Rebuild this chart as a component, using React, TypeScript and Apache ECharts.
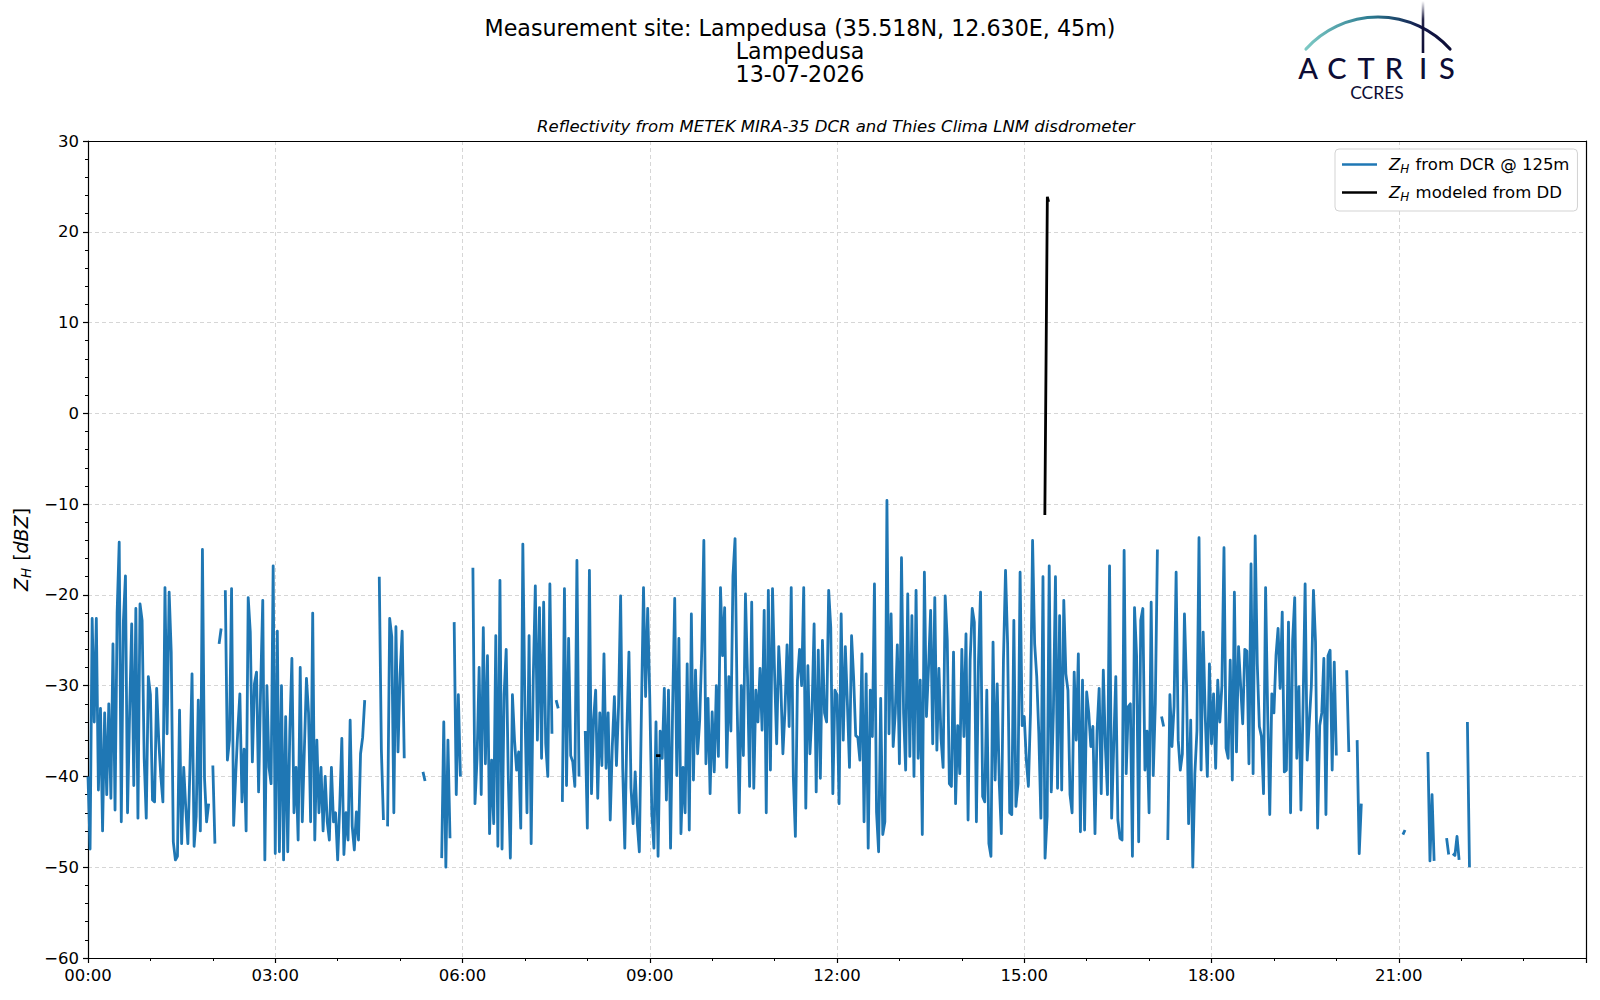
import React, { useEffect, useRef } from "react";
import * as echarts from "echarts";

// ---- data: Z_H from DCR @ 125m, 30 samples per hour (2-min spacing), null = no data ----
const h00 = [-40, -48, -22.6, -34, -22.6, -41.5, -32.5, -46, -33, -42, -32, -42.4, -25.4, -43.7, -22, -14.2, -45, -23, -17.9, -44, -33, -23.2, -41, -21.5, -44.6, -21, -22.8, -38, -44.6, -29];
const h01 = [-31, -42.6, -42.8, -30.3, -36, -40, -42.8, -19.2, -35.3, -19.7, -26.3, -47.2, -49.2, -48.8, -32.7, -47.4, -39, -43.5, -47.4, -39, -28.7, -47.7, -44.4, -31.6, -46, -15, -40.2, -45, -43, null];
const h02 = [-38.8, -47.4, null, -25.4, -23.7, null, -19.5, -38.2, -36, -19.3, -45.4, -39.8, -34.9, -30.9, -42.8, -37, -46, -20.3, -24.1, -38.4, -29.8, -28.5, -41.7, -30, -20.6, -49.2, -30, -39, -40.8, -16.8];
const h03 = [-48.5, -24, -48.3, -30, -49.2, -33.4, -48.3, -35, -27, -44, -39, -47, -28, -45, -37, -29.2, -33, -45, -22, -47, -36, -44, -39, -46, -40, -45, -47, -39, -45, -44];
const h04 = [-49.2, -43.2, -35.8, -48.6, -44, -47, -33.8, -45.5, -48.1, -43.9, -47, -37.5, -35.7, -31.6, null, null, null, null, null, null, -18, -37, -44.8, null, -45.5, -22.6, -24.6, -44, -23.5, -37.3];
const h05 = [-28.7, -24, -38, null, null, null, null, null, null, null, null, -39.5, -40.5, null, null, null, null, null, null, null, -49, -34, -50, -36, -46.8, null, -23, -42, -31, -40];
const h06 = [null, null, null, null, null, -17, -43, -38, -28, -42, -23.6, -38.6, -26.7, -46.3, -38.2, -45.2, -24.5, -47.7, -18.4, -48, -31, -26, -40, -49, -31, -36, -39.3, -37.3, -45.7, -14.4];
const h07 = [-32.3, -44, -24.5, -47.4, -29.4, -19, -36, -21.4, -38, -20.8, -36.4, -40, -18.8, -35.3, null, -31.6, -32.5, null, -42.8, -19.3, -41, -24.8, -37.7, -38.4, -41.1, -16.2, -40, null, null, -35];
const h08 = [-45.7, -17.3, -41.9, -33.8, -30.5, -42.4, -33, -38.8, -26.5, -39.1, -33, -44.8, -36.7, -31.2, -38.8, -32.3, -20.1, -39.1, -47.9, -35, -26.3, -41.3, -45.2, -39.5, -45.2, -48.3, -32.7, -19.2, -31.2, -21.5];
const h09 = [-31.2, -44, -47.9, -34, -48.8, -35, -38, -30.3, -42.6, -30.5, -47.9, -32.3, -20.4, -39.9, -24.8, -46.3, -39, -44, -27.6, -45.9, -22.1, -40.4, -28.3, -37.5, -33.8, -26.1, -14, -38.6, -31.4, -41.9];
const h10 = [-32.9, -39.5, -30, -37.8, -19.2, -26.7, -21.4, -39, -29, -35, -17.9, -13.8, -32, -44, -30, -37.7, -19.9, -29, -41.1, -20.8, -41.3, -30.5, -34, -28.1, -34.9, -21.7, -44, -19.5, -39.3, -19.3];
const h11 = [-28.7, -36.4, -25.7, -30, -37.5, -32.7, -25.5, -34.5, -19.2, -40, -46.6, -29.4, -26, -30, -19.2, -43.5, -27.8, -37.5, -32.7, -23.2, -41.7, -26.1, -40.2, -25, -33, -34, -19.5, -23.6, -41.9, -30.5];
const h12 = [-31, -43, -22.1, -36, -25.7, -32, -39, -24.5, -29.2, -35.5, -35.7, -38.2, -26.5, -45, -28.7, -47.9, -30.5, -35.6, -18.8, -43.9, -48.3, -31.4, -46.4, -45, -9.6, -35.3, -22.1, -36.7, -33, -25.5];
const h13 = [-38.6, -15.9, -33, -39.3, -19.9, -37.8, -22.3, -40, -19.5, -38, -29.4, -46.4, -17.5, -33.4, -28, -21.7, -36.4, -20.3, -37.1, -28.1, -35.8, -39, -20.1, -25, -40.8, -41.1, -26.3, -43, -34.4, -39.7];
const h14 = [-26, -35.6, -24.3, -44.8, -27.2, -21.5, -23, -45, -27.4, -19.7, -42.2, -42.8, -30.5, -47.4, -48.8, -25.2, -40.4, -29.8, -40.8, -46.3, -27.2, -17.3, -25.4, -44, -44.2, -22.8, -43.3, -40.8, -17.5, -34.4];
const h15 = [-33.4, -38.2, -41.1, -33, -14, -25.4, -29, -35.3, -44.6, -18, -49, -44.4, -16.8, -41.7, -33, -18, -41.3, -22.3, -41.5, -20.6, -28.7, -30.5, -42, -44, -28.5, -36, -26.5, -46.1, -29.4, -45.9];
const h16 = [-30.7, -33, -36.7, -34.5, -46.3, -35, -30.3, -41.9, -28.3, -36.7, -42, -16.8, -44.6, -36.6, -29, -44.8, -46.8, -47, -15.1, -39.7, -32.3, -32, -48.8, -21.4, -26.8, -47.2, -22.8, -21.5, -39.3, -35];
const h17 = [-44, -20.8, -39.9, -32, -15, null, -33.4, -34.5, null, -47, -31, -36.7, -32.3, -17.5, -36, -39.3, -37.5, -22.1, -30, -45.2, -33.8, -50, -39.7, -35, -13.7, -39.3, -24.1, -33.4, -40, -27.6];
const h18 = [-36.4, -30.9, -39.1, -29.4, -34, -30, -14.8, -36.9, -38, -27.2, -40.4, -19.7, -37.3, -25.7, -30, -34.2, -26, -26.2, -38.6, -16.6, -39.7, -13.5, -27.6, -34.5, -35.6, -41.9, -19.2, -33, -44.2, -30.9];
const h19 = [-33, -26.7, -23.7, -30.3, -21.9, -39.5, -39.3, -23, -44, -25, -20.3, -38, -30.1, -43.7, -32.3, -18.8, -38.2, -34, -30, -19.5, -25.2, -45.7, -34.4, -33, -27, -44.2, -26.7, -26.1, -39.3, -27.4];
const h20 = [-37.7, null, null, null, null, -28.3, -37.3, null, null, null, -36, -48.5, -43];
const h21 = [null, null, -46.4, -45.9, null, null, null, null, null, null, null, null, null, null, -37.3, -49.3, -42, -49.3, null, null, null, null, null, -46.8, -48.6, null, -48.5, -48.7, -46.6, -49.2];
const h22 = [null, null, null, -34, -50];
const dcrHours = [h00, h01, h02, h03, h04, h05, h06, h07, h08, h09, h10, h11, h12, h13, h14, h15, h16, h17, h18, h19, h20, h21, h22];
const samplesPerHour = 30;

// ---- data: Z_H modeled from disdrometer, [hour, dBZ], null = gap ----
const ddTimes = [9.10, 9.17, null, 15.33, 15.37, 15.39];
const ddValues = [-37.7, -37.7, null, -11.2, 23.85, 23.3];

// ---- axis ticks ----
const xTicks = [0, 3, 6, 9, 12, 15, 18, 21, 24];
const yMin = -60;
const yMax = 30;

const FONT = "DejaVu Sans";
const NAVY = "#0d0d35";

function buildDcr() {
  const pts: any[] = [];
  dcrHours.forEach((arr, H) => {
    arr.forEach((v, i) => {
      pts.push([H + i / samplesPerHour, v === null ? "-" : v]);
    });
  });
  return pts;
}

function buildDd() {
  return ddTimes.map((t, i) =>
    t === null ? [12, "-"] : [t, ddValues[i]]
  );
}

const pad2 = (n: number) => (n < 10 ? "0" + n : String(n));
const minus = (v: number) => (v < 0 ? "\u2212" + Math.abs(v) : String(v));

export default function App() {
  const ref = useRef<HTMLDivElement>(null);
  useEffect(() => {
    if (!ref.current) return;
    const chart = echarts.init(ref.current, null, { renderer: "svg" });
    const arcGrad = new echarts.graphic.LinearGradient(0, 0, 1, 0, [
      { offset: 0, color: "#7cc9c4" },
      { offset: 0.45, color: "#2b7a90" },
      { offset: 0.8, color: "#12184a" },
      { offset: 1, color: NAVY },
    ]);
    const vGrad = new echarts.graphic.LinearGradient(
      1423, 1, 1423, 53,
      [
        { offset: 0, color: "rgba(13,13,53,0)" },
        { offset: 0.35, color: "rgba(13,13,53,0.9)" },
        { offset: 1, color: NAVY },
      ],
      true
    );
    const letters = [
      { t: "A", x: 1308 },
      { t: "C", x: 1337 },
      { t: "T", x: 1366 },
      { t: "R", x: 1394 },
      { t: "I", x: 1423 },
      { t: "S", x: 1447 },
    ];
    const titleStyle = { fontSize: 22.2, fontWeight: "normal", color: "#000", fontFamily: FONT };
    const gridStyle = { color: "#d6d6d6", width: 1, type: [4, 3] };
    const option: any = {
      animation: false,
      backgroundColor: "#fff",
      textStyle: { fontFamily: FONT, color: "#000" },
      title: [
        {
          text: "Measurement site: Lampedusa (35.518N, 12.630E, 45m)",
          left: "center",
          top: 12,
          textStyle: titleStyle,
        },
        { text: "Lampedusa", left: "center", top: 35, textStyle: titleStyle },
        { text: "13-07-2026", left: "center", top: 58, textStyle: titleStyle },
        {
          text: "Reflectivity from METEK MIRA-35 DCR and Thies Clima LNM disdrometer",
          left: 831,
          textAlign: "center",
          top: 113,
          textStyle: { fontSize: 16.5, fontStyle: "italic", fontWeight: "normal", color: "#000", fontFamily: FONT },
        },
      ],
      legend: {
        orient: "vertical",
        left: 1335,
        top: 149,
        padding: [7, 8, 8, 7],
        itemGap: 9,
        itemWidth: 35,
        itemHeight: 2.6,
        icon: "rect",
        borderColor: "#d3d3d3",
        borderWidth: 1,
        borderRadius: 4,
        backgroundColor: "#fff",
        textStyle: {
          fontSize: 16.5,
          color: "#000",
          fontFamily: FONT,
          padding: [0, 0, 0, 7],
          rich: {
            i: { fontStyle: "italic", fontSize: 16.5, fontFamily: FONT },
            s: { fontStyle: "italic", fontSize: 12, fontFamily: FONT, padding: [9, 1, 0, 0] },
          },
        },
        formatter: (name: string) =>
          name.indexOf("DCR") >= 0
            ? "{i|Z}{s|H} from DCR @ 125m"
            : "{i|Z}{s|H} modeled from DD",
        data: ["Z_H from DCR @ 125m", "Z_H modeled from DD"],
      },
      grid: {
        left: 88,
        right: 14,
        top: 141,
        bottom: 42,
        show: false,
      },
      xAxis: [
        {
          type: "value",
          min: xTicks[0],
          max: xTicks[xTicks.length - 1],
          interval: 3,
          axisLine: { show: true, onZero: false, lineStyle: { color: "#000", width: 1.2 } },
          axisTick: { show: true, inside: false, length: 5, lineStyle: { color: "#000", width: 1.2 } },
          minorTick: { show: true, splitNumber: 3, length: 3, lineStyle: { color: "#000", width: 1 } },
          splitLine: { show: true, showMinLine: false, showMaxLine: false, lineStyle: gridStyle },
          axisLabel: {
            fontSize: 16.5,
            color: "#000",
            fontFamily: FONT,
            margin: 9,
            formatter: (v: number) => (v >= 24 ? "" : pad2(v) + ":00"),
          },
        },
        {
          type: "value",
          position: "top",
          min: xTicks[0],
          max: xTicks[xTicks.length - 1],
          interval: 3,
          axisLine: { show: true, onZero: false, lineStyle: { color: "#000", width: 1.2 } },
          axisTick: { show: false },
          axisLabel: { show: false },
          splitLine: { show: false },
        },
      ],
      yAxis: [
        {
          type: "value",
          min: yMin,
          max: yMax,
          interval: 10,
          name: "{i|Z}{s|H} [{i|dBZ}]",
          nameLocation: "middle",
          nameRotate: 90,
          nameGap: 51,
          nameTextStyle: {
            fontSize: 19,
            color: "#000",
            fontFamily: FONT,
            rich: {
              i: { fontStyle: "italic", fontSize: 19, fontFamily: FONT },
              s: { fontStyle: "italic", fontSize: 13.5, fontFamily: FONT, padding: [10, 1, 0, 0] },
            },
          },
          axisLine: { show: true, onZero: false, lineStyle: { color: "#000", width: 1.2 } },
          axisTick: { show: true, inside: false, length: 5, lineStyle: { color: "#000", width: 1.2 } },
          minorTick: { show: true, splitNumber: 5, length: 3, lineStyle: { color: "#000", width: 1 } },
          splitLine: { show: true, showMinLine: false, showMaxLine: false, lineStyle: gridStyle },
          axisLabel: {
            fontSize: 16.5,
            color: "#000",
            fontFamily: FONT,
            margin: 9,
            formatter: (v: number) => minus(v),
          },
        },
        {
          type: "value",
          position: "right",
          min: yMin,
          max: yMax,
          interval: 10,
          axisLine: { show: true, onZero: false, lineStyle: { color: "#000", width: 1.2 } },
          axisTick: { show: false },
          axisLabel: { show: false },
          splitLine: { show: false },
        },
      ],
      series: [
        {
          name: "Z_H from DCR @ 125m",
          type: "line",
          data: buildDcr(),
          symbol: "none",
          showSymbol: false,
          connectNulls: false,
          lineStyle: { color: "#1f77b4", width: 2.8, join: "round" },
          itemStyle: { color: "#1f77b4" },
          z: 2,
        },
        {
          name: "Z_H modeled from DD",
          type: "line",
          data: buildDd(),
          symbol: "none",
          showSymbol: false,
          connectNulls: false,
          lineStyle: { color: "#000", width: 2.8 },
          itemStyle: { color: "#000" },
          z: 3,
        },
      ],
      graphic: [
        {
          type: "arc",
          shape: { cx: 1378, cy: 114, r: 97, startAngle: 3.876, endAngle: 5.549, clockwise: true },
          style: { stroke: arcGrad, lineWidth: 3.2, fill: "none", lineCap: "round" },
          z: 10,
        },
        {
          type: "line",
          shape: { x1: 1423, y1: 1, x2: 1423, y2: 53 },
          style: { stroke: vGrad, lineWidth: 2.6 },
          z: 10,
        },
        ...letters.map((l) => ({
          type: "text",
          x: l.x,
          y: 67,
          style: {
            text: l.t,
            fontSize: 29,
            fontWeight: 500,
            fontFamily: "Lato",
            fill: NAVY,
            textAlign: "center",
            textVerticalAlign: "middle",
          },
          z: 10,
        })),
        {
          type: "text",
          x: 1377,
          y: 92,
          style: {
            text: "CCRES",
            fontSize: 17.5,
            fontFamily: "Lato",
            fill: NAVY,
            textAlign: "center",
            textVerticalAlign: "middle",
          },
          z: 10,
        },
      ],
    };
    chart.setOption(option);
    return () => chart.dispose();
  }, []);
  return (
    <div
      ref={ref}
      style={{ position: "absolute", left: 0, top: 0, width: 1600, height: 1000 }}
    />
  );
}
